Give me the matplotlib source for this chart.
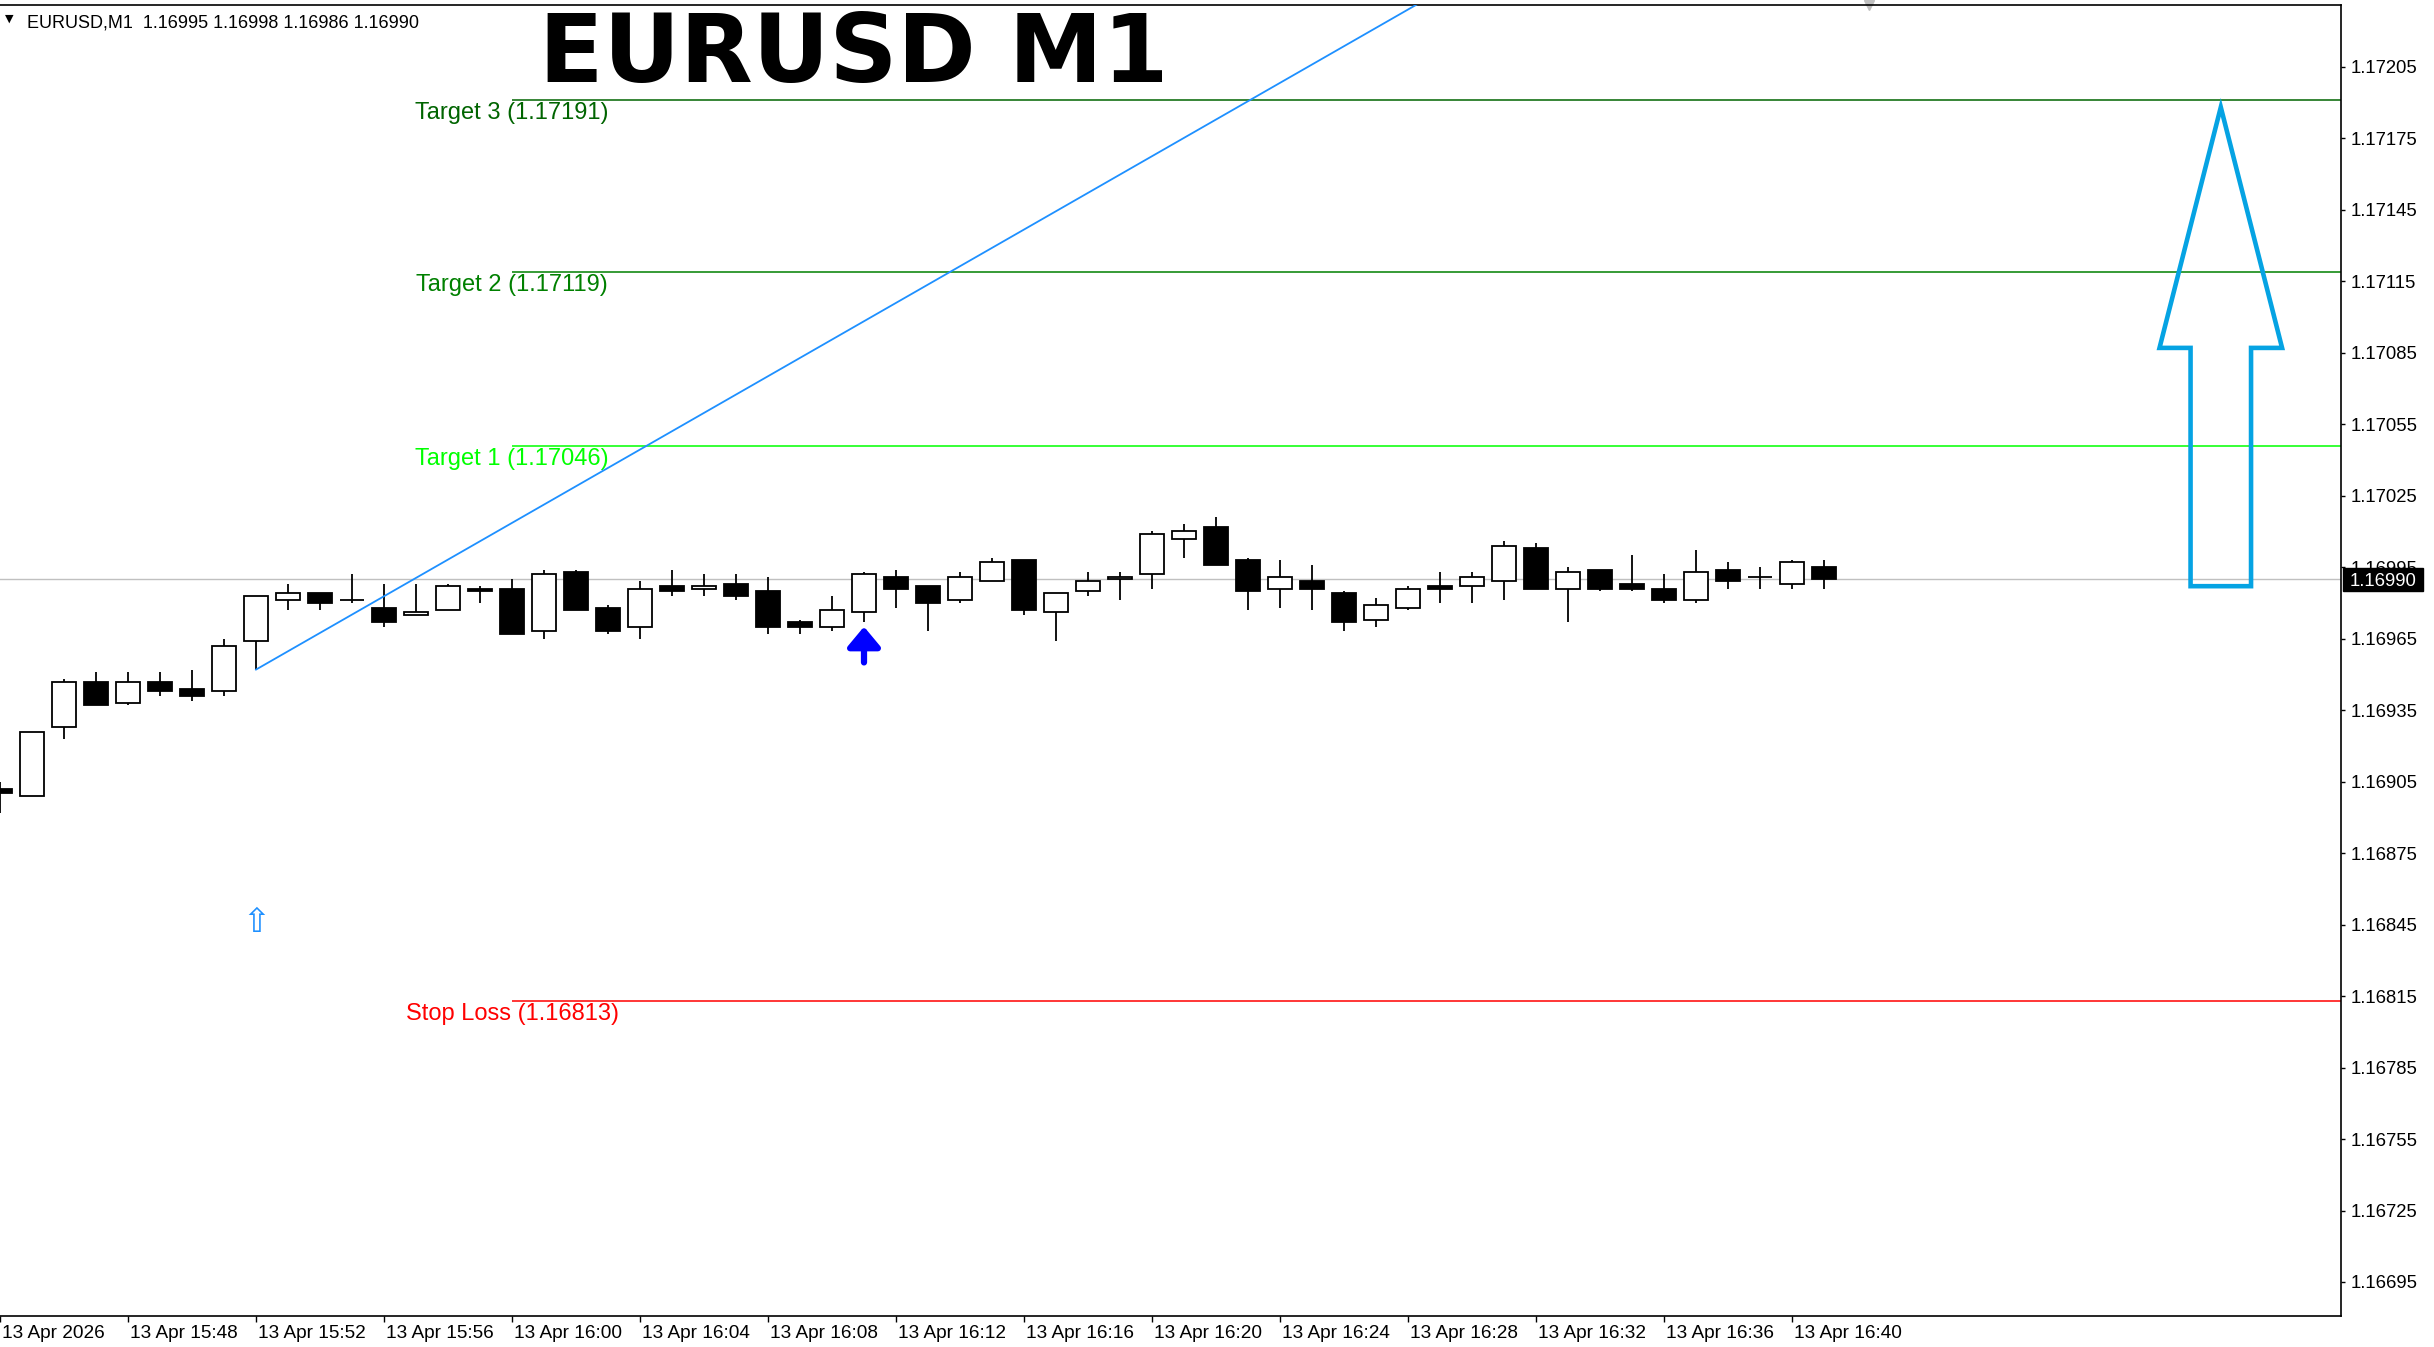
import numpy as np
import matplotlib.pyplot as plt
import matplotlib.transforms as mtransforms
from matplotlib.patches import Polygon, Rectangle

# M1 bars, 13 Apr 2026 15:44 .. 16:41
opens = [1.16902, 1.16899, 1.16928, 1.16947, 1.16938, 1.16947, 1.16944, 1.16943, 1.16964, 1.16981,
         1.16984, 1.16981, 1.16978, 1.16975, 1.16977, 1.16986, 1.16986, 1.16968, 1.16993, 1.16978,
         1.16970, 1.16987, 1.16986, 1.16988, 1.16985, 1.16972, 1.16970, 1.16976, 1.16991, 1.16987,
         1.16981, 1.16989, 1.16998, 1.16976, 1.16985, 1.16990, 1.16992, 1.17007, 1.17012, 1.16998,
         1.16986, 1.16989, 1.16984, 1.16973, 1.16978, 1.16987, 1.16987, 1.16989, 1.17003, 1.16986,
         1.16994, 1.16988, 1.16986, 1.16981, 1.16994, 1.16991, 1.16988, 1.16995]
highs = [1.16905, 1.16926, 1.16948, 1.16951, 1.16951, 1.16951, 1.16952, 1.16965, 1.16983, 1.16988,
         1.16984, 1.16992, 1.16988, 1.16988, 1.16988, 1.16987, 1.16990, 1.16994, 1.16994, 1.16979,
         1.16989, 1.16994, 1.16992, 1.16992, 1.16991, 1.16973, 1.16983, 1.16993, 1.16994, 1.16987,
         1.16993, 1.16999, 1.16998, 1.16984, 1.16993, 1.16993, 1.17010, 1.17013, 1.17016, 1.16999,
         1.16998, 1.16996, 1.16985, 1.16982, 1.16987, 1.16993, 1.16993, 1.17006, 1.17005, 1.16995,
         1.16994, 1.17000, 1.16992, 1.17002, 1.16997, 1.16995, 1.16998, 1.16998]
lows = [1.16892, 1.16899, 1.16923, 1.16937, 1.16937, 1.16941, 1.16939, 1.16941, 1.16952, 1.16977,
        1.16977, 1.16980, 1.16970, 1.16975, 1.16977, 1.16980, 1.16967, 1.16965, 1.16977, 1.16967,
        1.16965, 1.16983, 1.16983, 1.16981, 1.16967, 1.16967, 1.16968, 1.16972, 1.16978, 1.16968,
        1.16980, 1.16989, 1.16975, 1.16964, 1.16983, 1.16981, 1.16986, 1.16999, 1.16996, 1.16977,
        1.16978, 1.16977, 1.16968, 1.16970, 1.16977, 1.16980, 1.16980, 1.16981, 1.16986, 1.16972,
        1.16985, 1.16985, 1.16980, 1.16980, 1.16986, 1.16986, 1.16986, 1.16986]
closes = [1.16900, 1.16926, 1.16947, 1.16937, 1.16947, 1.16943, 1.16941, 1.16962, 1.16983, 1.16984,
          1.16980, 1.16981, 1.16972, 1.16976, 1.16987, 1.16985, 1.16967, 1.16992, 1.16977, 1.16968,
          1.16986, 1.16985, 1.16987, 1.16983, 1.16970, 1.16970, 1.16977, 1.16992, 1.16986, 1.16980,
          1.16991, 1.16997, 1.16977, 1.16984, 1.16989, 1.16991, 1.17009, 1.17010, 1.16996, 1.16985,
          1.16991, 1.16986, 1.16972, 1.16979, 1.16986, 1.16986, 1.16991, 1.17004, 1.16986, 1.16993,
          1.16986, 1.16986, 1.16981, 1.16993, 1.16989, 1.16991, 1.16997, 1.16990]

time_ticks = [0, 4, 8, 12, 16, 20, 24, 28, 32, 36, 40, 44, 48, 52, 56]
time_labels = ["13 Apr 2026", "13 Apr 15:48", "13 Apr 15:52", "13 Apr 15:56", "13 Apr 16:00",
               "13 Apr 16:04", "13 Apr 16:08", "13 Apr 16:12", "13 Apr 16:16", "13 Apr 16:20",
               "13 Apr 16:24", "13 Apr 16:28", "13 Apr 16:32", "13 Apr 16:36", "13 Apr 16:40"]
price_ticks = [1.16695, 1.16725, 1.16755, 1.16785, 1.16815, 1.16845, 1.16875, 1.16905, 1.16935,
               1.16965, 1.16995, 1.17025, 1.17055, 1.17085, 1.17115, 1.17145, 1.17175, 1.17205]

level_names = ["Target 3", "Target 2", "Target 1", "Stop Loss"]
level_prices = [1.17191, 1.17119, 1.17046, 1.16813]
level_colors = ["#006400", "#008000", "#00FF00", "#FF0000"]
level_start = 16

trend_t = [8, 44]
trend_p = [1.16952, 1.17229]

current_price = 1.16990
buy_arrow = (27, 1.16970, 1.16955)      # bar, tip, tail
small_arrow = (8, 1.16846)
big_arrow_t = 69.4
big_arrow_tip, big_arrow_head, big_arrow_base = 1.17188, 1.17087, 1.16987

ui_font = ['Liberation Sans', 'DejaVu Sans']

fig = plt.figure(figsize=(24.34, 13.47), dpi=100)
ax = fig.add_axes([0, 1 - 1316.3 / 1347, 2341 / 2434, (1316.3 - 5) / 1347])
xmax = 2341 / 32
ax.set_xlim(0, xmax)
ax.set_ylim(1.166806, 1.172309)

# current price line
ax.axhline(current_price, color='#C0C0C0', lw=1, zorder=1)

# candles
o = np.array(opens); h = np.array(highs); l = np.array(lows); c = np.array(closes)
x = np.arange(len(o))
up = c >= o
ax.vlines(x, l, h, color='black', lw=1.3, zorder=2)
ax.bar(x[up], (c - o)[up], bottom=o[up], width=0.76, facecolor='white',
       edgecolor='black', lw=1.3, zorder=3)
ax.bar(x[~up], (o - c)[~up], bottom=c[~up], width=0.76, facecolor='black',
       edgecolor='black', lw=1.3, zorder=3)

# target / stop levels
for name, p, col in zip(level_names, level_prices, level_colors):
    ax.hlines(p, level_start, xmax, color=col, lw=1.1, zorder=2)
    ax.annotate(f"{name} ({p:.5f})", xy=(level_start, p), xytext=(0, -2),
                textcoords='offset pixels', ha='center', va='top', color=col,
                fontsize=17, family=ui_font, zorder=4)

# trend line (ray)
slope = (trend_p[1] - trend_p[0]) / (trend_t[1] - trend_t[0])
ax.plot([trend_t[0], xmax], [trend_p[0], trend_p[0] + slope * (xmax - trend_t[0])],
        color='#1E90FF', lw=1.3, zorder=5)

# arrows
ax.annotate('', xy=(buy_arrow[0], buy_arrow[1]), xytext=(buy_arrow[0], buy_arrow[2]),
            arrowprops=dict(arrowstyle='-|>,head_length=0.6,head_width=0.5', lw=4.5,
                            color='#0000FF', shrinkA=0, shrinkB=0, mutation_scale=20), zorder=6)
ax.text(small_arrow[0], small_arrow[1], '\u21e7', color='#1E90FF', fontsize=24,
        ha='center', va='center', family='DejaVu Sans', zorder=6)

hw, sw = 1.915, 0.945
big = [(big_arrow_t, big_arrow_tip), (big_arrow_t - hw, big_arrow_head),
       (big_arrow_t - sw, big_arrow_head), (big_arrow_t - sw, big_arrow_base),
       (big_arrow_t + sw, big_arrow_base), (big_arrow_t + sw, big_arrow_head),
       (big_arrow_t + hw, big_arrow_head)]
ax.add_patch(Polygon(big, closed=True, fill=False, edgecolor='#05A3E3', lw=3.3,
                     joinstyle='miter', zorder=6))

# axes styling
ax.spines['left'].set_visible(False)
for s in ['top', 'right', 'bottom']:
    ax.spines[s].set_color('black')
    ax.spines[s].set_linewidth(1.2)
ax.yaxis.tick_right()
ax.set_yticks(price_ticks)
ax.set_yticklabels([f"{p:.5f}" for p in price_ticks], family=ui_font, fontsize=13.3)
ax.tick_params(axis='y', direction='out', length=3, pad=4, width=1)
ax.set_xticks(time_ticks)
ax.set_xticklabels(time_labels, family=ui_font, fontsize=13.7, ha='left')
ax.tick_params(axis='x', direction='out', length=4, pad=2, width=1)
offset = mtransforms.ScaledTranslation(2 / 100, 0, fig.dpi_scale_trans)
for lab in ax.get_xticklabels():
    lab.set_transform(lab.get_transform() + offset)

# current price box
blend = mtransforms.blended_transform_factory(ax.transAxes, ax.transData)
ax.add_patch(Rectangle((1.0008, current_price - 0.0000483), 80 / 2341, 0.0000966,
                       transform=blend, facecolor='black', edgecolor='black',
                       clip_on=False, zorder=10))
ax.text(1.0008 + 40 / 2341, current_price, f"{current_price:.5f}", transform=blend,
        color='white', ha='center', va='center_baseline', fontsize=13.3, family=ui_font,
        clip_on=False, zorder=11)

# shift marker
ax.plot([58.4], [1.0], marker='v', color='#C0C0C0', markersize=7, clip_on=False,
        transform=mtransforms.blended_transform_factory(ax.transData, ax.transAxes))

# header and title
fig.text(9 / 2434, 1 - 19 / 1347, '\u25bc', fontsize=8, ha='center', va='center',
         family='DejaVu Sans')
fig.text(27 / 2434, 1 - 28 / 1347, "EURUSD,M1  1.16995 1.16998 1.16986 1.16990",
         fontsize=13, family=ui_font, ha='left', va='baseline')
fig.text(853.8 / 2434, 1 - 82.3 / 1347, "EURUSD M1", fontsize=68, weight='bold',
         family='DejaVu Sans', ha='center', va='baseline')

fig.savefig('out.png', dpi=100, facecolor='white')
